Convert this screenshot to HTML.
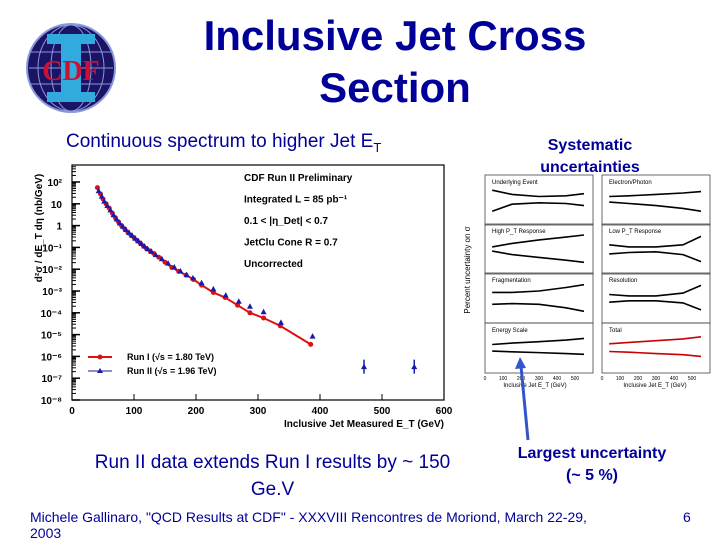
<!DOCTYPE html>
<html><head><meta charset="utf-8"><style>
body{margin:0;background:#fff;}
#slide{position:relative;width:720px;height:540px;overflow:hidden;background:#fff;font-family:"Liberation Sans",sans-serif;}
.t{position:absolute;color:#000099;white-space:nowrap;}
</style></head><body>
<div id="slide">
<svg style="position:absolute;left:25px;top:22px" width="92" height="92" viewBox="0 0 92 92">
<circle cx="46" cy="46" r="44" fill="#1b1464" stroke="#8899dd" stroke-width="2"/>
<g stroke="#8899dd" stroke-width="1" fill="none"><ellipse cx="46" cy="46" rx="20" ry="43"/><ellipse cx="46" cy="46" rx="33" ry="43"/><line x1="4" y1="46" x2="88" y2="46"/><line x1="6" y1="30" x2="86" y2="30"/><line x1="6" y1="62" x2="86" y2="62"/></g>
<path d="M22 12h48v10h-14v48h14v10h-48v-10h14v-48h-14z" fill="#33aadd"/>
<text x="46" y="58" text-anchor="middle" font-family="Liberation Serif,serif" font-weight="bold" font-size="28" fill="#cc1133">CDF</text>
</svg>
<div class="t" style="left:0;width:790px;text-align:center;top:12px;font-size:42px;font-weight:bold;">Inclusive Jet Cross</div>
<div class="t" style="left:0;width:790px;text-align:center;top:64px;font-size:42px;font-weight:bold;">Section</div>
<div class="t" style="left:66px;top:131px;font-size:19px;">Continuous spectrum to higher Jet E<sub style="font-size:13px">T</sub></div>
<div class="t" style="left:500px;width:180px;text-align:center;top:135px;font-size:16px;font-weight:bold;line-height:22px;">Systematic<br>uncertainties</div>
<svg id="main" style="position:absolute;left:0;top:0" width="720" height="540"></svg>
<div class="t" style="left:40px;width:465px;text-align:center;top:449px;font-size:19px;line-height:27px;">Run II data extends Run I results by ~ 150<br>Ge.V</div>
<div class="t" style="left:500px;width:184px;text-align:center;top:443px;font-size:16px;font-weight:bold;line-height:22px;">Largest uncertainty<br>(~ 5 %)</div>
<div class="t" style="left:30px;top:509px;font-size:14px;line-height:16px;">Michele Gallinaro, "QCD Results at CDF" - XXXVIII Rencontres de Moriond, March 22-29,<br>2003</div>
<div class="t" style="left:683px;top:509px;font-size:14px;">6</div>
</div>
<script>
const run1E=[41,46,50,55,60,65,70,75,80,85,90,95,100,105,110,115,120,126,132,140,150,161,172,184,196,209,228,247,267,287,309,336,385];
const run1Log=[1.74,1.45,1.22,1.0,0.8,0.57,0.36,0.17,0.0,-0.15,-0.3,-0.43,-0.55,-0.68,-0.8,-0.93,-1.05,-1.16,-1.28,-1.45,-1.68,-1.92,-2.1,-2.27,-2.47,-2.73,-3.07,-3.3,-3.65,-4.0,-4.24,-4.6,-5.45];
const run2E=[43,48,52,57,62,67,72,77,82,87,92,97,102,107,112,117,122,128,135,145,155,165,175,185,195,209,228,248,269,287,309,337,388,471,552];
const run2Log=[1.6,1.35,1.12,0.92,0.72,0.5,0.3,0.12,-0.03,-0.18,-0.32,-0.45,-0.58,-0.7,-0.82,-0.94,-1.06,-1.18,-1.33,-1.52,-1.72,-1.9,-2.08,-2.25,-2.4,-2.62,-2.9,-3.19,-3.47,-3.7,-3.95,-4.44,-5.07,-6.47,-6.47];
const xTicks=[0,100,200,300,400,500,600];
const yTickLabels=["10²","10","1","10⁻¹","10⁻²","10⁻³","10⁻⁴","10⁻⁵","10⁻⁶","10⁻⁷","10⁻⁸"];
const yTickLogs=[2,1,0,-1,-2,-3,-4,-5,-6,-7,-8];
const sysE=[40,150,300,450,550];
const sysUpper=[[14,8,5,6,9],[5,6,8,10,12],[3,8,13,17,20],[6,3,3,6,18],[8,8,10,15,19],[5,3,3,7,18],[25,35,45,57,68],[30,40,52,65,80]];
const sysLower=[[-16,-6,-4,-5,-8],[-3,-5,-8,-12,-16],[-3,-8,-12,-16,-19],[-7,-5,-4,-8,-18],[-9,-8,-9,-14,-19],[-6,-4,-4,-7,-17],[-22,-27,-33,-40,-45],[-25,-30,-40,-48,-60]];
const sysNames=["Underlying Event","Electron/Photon","High P_T Response","Low P_T Response","Fragmentation","Resolution","Energy Scale","Total"];
const NS="http://www.w3.org/2000/svg";
const svg=document.getElementById('main');
function mk(t,a,p){const e=document.createElementNS(NS,t);for(const k in a)e.setAttribute(k,a[k]);(p||svg).appendChild(e);return e;}
const X0=72,X1=444,YT=165,YB=400;
function xs(v){return X0+(v/600)*(X1-X0);}
function ys(l){return 400-(l+8)*21.8;}
const frame=mk('rect',{x:X0,y:YT,width:X1-X0,height:YB-YT,fill:'none',stroke:'#000','stroke-width':1.2});


xTicks.forEach(v=>{const l=mk('line',{x1:xs(v),x2:xs(v),y1:YB,y2:YB-6,stroke:'#000'});


const t=mk('text',{x:xs(v),y:YB+14,'text-anchor':'middle','font-size':10,'font-weight':'bold'});t.textContent=v;

});
yTickLogs.forEach((lg,i)=>{const l=mk('line',{x1:X0,x2:X0+8,y1:ys(lg),y2:ys(lg),stroke:'#000','stroke-width':1.5});


for(let k=2;k<10;k++){const yy=ys(lg+Math.log10(k));if(yy>YT&&lg<2.9){mk('line',{x1:X0,x2:X0+4,y1:yy,y2:yy,stroke:'#000'});}}
const t=mk('text',{x:62,y:ys(lg)+4,'text-anchor':'end','font-size':10,'font-weight':'bold'});t.textContent=yTickLabels[i];

});
const xt=mk('text',{x:444,y:427,'text-anchor':'end','font-size':10,'font-weight':'bold'});xt.textContent='Inclusive Jet Measured E_T   (GeV)';


const yt=mk('text',{x:42,y:228,'text-anchor':'middle','font-size':10,'font-weight':'bold',transform:'rotate(-90 42 228)'});yt.textContent='d²σ / dE_T dη   (nb/GeV)';


const info=["CDF Run II Preliminary","Integrated L = 85 pb⁻¹","0.1 < |η_Det| < 0.7","JetClu Cone R = 0.7","Uncorrected"];
info.forEach((s,i)=>{const t=mk('text',{x:244,y:181+i*21.5,'font-size':10,'font-weight':'bold'});t.textContent=s;

});
const line=mk('polyline',{points:run1E.map((e,i)=>xs(e)+','+ys(run1Log[i])).join(' '),fill:'none',stroke:'#dd1111','stroke-width':2});


run1E.forEach((e,i)=>{const c=mk('circle',{cx:xs(e),cy:ys(run1Log[i]),r:2.5,fill:'#dd1111'});

});
run2E.forEach((e,i)=>{const x=xs(e),y=ys(run2Log[i]);const p=mk('polygon',{points:`${x},${y-3} ${x-3},${y+2.5} ${x+3},${y+2.5}`,fill:'#1a1aaa'});


if(e>450){mk('line',{x1:x,x2:x,y1:y-7,y2:y+7,stroke:'#1a1aaa','stroke-width':1.5});}});
// legend
mk('line',{x1:88,x2:112,y1:357,y2:357,stroke:'#dd1111','stroke-width':2});mk('circle',{cx:100,cy:357,r:2.5,fill:'#dd1111'});
mk('line',{x1:88,x2:112,y1:371,y2:371,stroke:'#1a1aaa','stroke-width':1});mk('polygon',{points:'100,368 97,373 103,373',fill:'#1a1aaa'});
[["Run I (√s = 1.80 TeV)",360],["Run II (√s = 1.96 TeV)",374]].forEach(a=>{const t=mk('text',{x:127,y:a[1],'font-size':9,'font-weight':'bold'});t.textContent=a[0];

});
// systematics panels
const colX=[485,602],PW=108,rowY=[175,224,273,323],PH=50;
const g=mk('g',{});


const ptl=mk('text',{x:470,y:270,'text-anchor':'middle','font-size':8,transform:'rotate(-90 470 270)'},g);ptl.textContent='Percent uncertainty on σ';
sysNames.forEach((nm,i)=>{const c=i%2,r=Math.floor(i/2),x0=colX[c],y0=rowY[r];
const rc=mk('rect',{x:x0,y:y0,width:PW,height:PH,fill:'none',stroke:'#444','stroke-width':0.8},g);


const t=mk('text',{x:x0+7,y:y0+9,'font-size':6},g);t.textContent=nm;
const sc=r==3?100:20;const sx=e=>x0+e/600*PW, sy=v=>y0+PH/2-v/sc*PH*0.28;
const col=i==7?'#cc0000':'#000';
[sysUpper[i],sysLower[i]].forEach(arr=>{const pl=mk('polyline',{points:sysE.map((e,k)=>sx(e)+','+sy(arr[k])).join(' '),fill:'none',stroke:col,'stroke-width':1.6},g);

});});
[0,100,200,300,400,500].forEach(v=>{[485,602].forEach(x0=>{const t=mk('text',{x:x0+v/600*PW,y:380,'text-anchor':'middle','font-size':5},g);t.textContent=v;});});
[535,655].forEach(x=>{const t=mk('text',{x:x,y:387,'text-anchor':'middle','font-size':6},g);t.textContent='Inclusive Jet E_T (GeV)';});
// arrow
const ar=mk('line',{x1:528,y1:440,x2:521,y2:366,stroke:'#3355cc','stroke-width':3});


mk('polygon',{points:'520,357 515,369 526,368',fill:'#3355cc'});
</script>
</body></html>
